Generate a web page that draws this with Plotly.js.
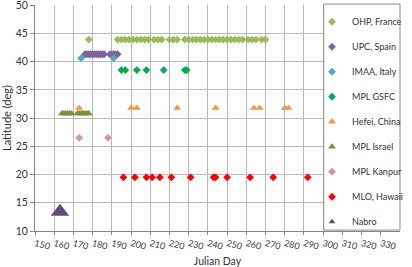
<!DOCTYPE html>
<html>
<head>
<meta charset="utf-8">
<script src="https://cdn.plot.ly/plotly-3.0.1.min.js"></script>
<style>html,body{margin:0;padding:0;background:#fff;}#chart{width:412px;height:267px;}</style>
</head>
<body>
<div id="chart"></div>
<script>
// ---- data ----
var ohpDays = [178, 193, 195, 197, 199, 201, 203, 205, 207, 209, 212, 214, 216, 220, 222, 224, 228, 230, 232, 234, 236, 238, 240, 242, 244, 246, 248, 250, 252, 254, 256, 258, 261, 263, 265, 268, 270];
var ohpLat = 43.9;
var upcDays = [176, 177, 178, 179, 180, 181, 182, 183, 184, 185, 186, 189, 190, 191, 192, 193];
var upcLat = 41.3;
var imaaDays = [174, 191];
var imaaLat = 40.6;
var gsfcDays = [195, 197, 203, 208, 217, 228, 229];
var gsfcLat = 38.5;
var hefeiDays = [173, 200, 203, 224, 244, 264, 267, 280, 282];
var hefeiLat = 31.8;
var israelDays = [164, 165, 166, 167, 168, 169, 172, 173, 174, 175, 176, 177, 178];
var israelLat = 30.8;
var kanpurDays = [173, 188];
var kanpurLat = 26.5;
var mloDays = [196, 202, 208, 211, 215, 221, 231, 243, 244, 250, 262, 274, 292];
var mloLat = 19.5;
var nabroDays = [163];
var nabroLat = 13.4;

var seriesNames = ["OHP, France", "UPC, Spain", "IMAA, Italy", "MPL GSFC", "Hefei, China", "MPL Israel", "MPL Kanpur", "MLO, Hawaii", "Nabro"];
var seriesColors = ["#9BBB59", "#8064A2", "#4BACC6", "#00B050", "#F79646", "#77933C", "#D99694", "#FF0000", "#604A7B"];
var xTickVals = [150, 160, 170, 180, 190, 200, 210, 220, 230, 240, 250, 260, 270, 280, 290, 300, 310, 320, 330];
var yTickVals = [10, 15, 20, 25, 30, 35, 40, 45, 50];

function fill(days, lat) { return days.map(function () { return lat; }); }

var seriesDays = [ohpDays, upcDays, imaaDays, gsfcDays, hefeiDays, israelDays, kanpurDays, mloDays, nabroDays];
var seriesLats = [ohpLat, upcLat, imaaLat, gsfcLat, hefeiLat, israelLat, kanpurLat, mloLat, nabroLat];
var seriesSymbols = ["diamond", "diamond", "diamond", "diamond", "triangle-up", "triangle-up", "diamond", "diamond", "triangle-up"];
var seriesSizes = [6, 6, 6, 6, 7, 7, 6, 6, 16];

var traces = [];
for (var i = 0; i < seriesNames.length; i++) {
  var isNabro = (i === seriesNames.length - 1);
  traces.push({
    type: "scatter", mode: "markers",
    x: seriesDays[i], y: fill(seriesDays[i], seriesLats[i]),
    name: seriesNames[i], legendgroup: "g" + i,
    showlegend: !isNabro,
    marker: { symbol: seriesSymbols[i], size: seriesSizes[i], color: seriesColors[i], line: { width: 0 } },
    hoverinfo: "x+y+name"
  });
  if (isNabro) {
    // legend-only entry (no drawable point) with a small symbol, like the reference legend
    traces.push({
      type: "scatter", mode: "markers", x: [null], y: [null],
      name: seriesNames[i], legendgroup: "g" + i, showlegend: true,
      marker: { symbol: seriesSymbols[i], size: 6, color: seriesColors[i], line: { width: 0 } }
    });
  }
}

var font = "Lato, 'Open Sans', sans-serif";
var layout = {
  width: 412, height: 267,
  margin: { l: 35, r: 4, t: 5, b: 36, pad: 0 },
  paper_bgcolor: "#ffffff", plot_bgcolor: "#ffffff",
  font: { family: font, size: 10, color: "#333333" },
  showlegend: true,
  legend: {
    x: 0.759, xanchor: "left", y: 0.99, yanchor: "top",
    bgcolor: "rgba(0,0,0,0)", borderwidth: 0,
    font: { family: font, size: 9, color: "#333333" },
    tracegroupgap: 6, traceorder: "grouped",
    maxheight: 1
  },
  xaxis: {
    range: [150, 340], tickmode: "array", tickvals: xTickVals,
    tickangle: 15, tickfont: { size: 9, color: "#404040" },
    showgrid: true, gridcolor: "#b8b8b8", gridwidth: 1,
    showline: true, linecolor: "#868686", linewidth: 1,
    ticks: "outside", ticklen: 3, tickcolor: "#868686",
    zeroline: false,
    title: { text: "Julian Day", font: { size: 10.5, color: "#333333" }, standoff: 7 }
  },
  yaxis: {
    range: [10, 50.02], tickmode: "array", tickvals: yTickVals,
    ticklabeloverflow: "allow",
    tickfont: { size: 10.5, color: "#333333" },
    showgrid: true, gridcolor: "#b8b8b8", gridwidth: 1,
    showline: true, linecolor: "#868686", linewidth: 1,
    ticks: "outside", ticklen: 4, tickcolor: "#868686",
    zeroline: false,
    title: { text: "Latitude (deg)", font: { size: 11, color: "#333333" }, standoff: 4 }
  },
  shapes: [{
    type: "rect", xref: "paper", yref: "paper",
    x0: 0.7909, x1: 1.0, y0: 0.004, y1: 1.004,
    fillcolor: "#ffffff", line: { color: "#8c8c8c", width: 1 }, layer: "above"
  }]
};

Plotly.newPlot("chart", traces, layout, { staticPlot: true, displayModeBar: false });
</script>
</body>
</html>
